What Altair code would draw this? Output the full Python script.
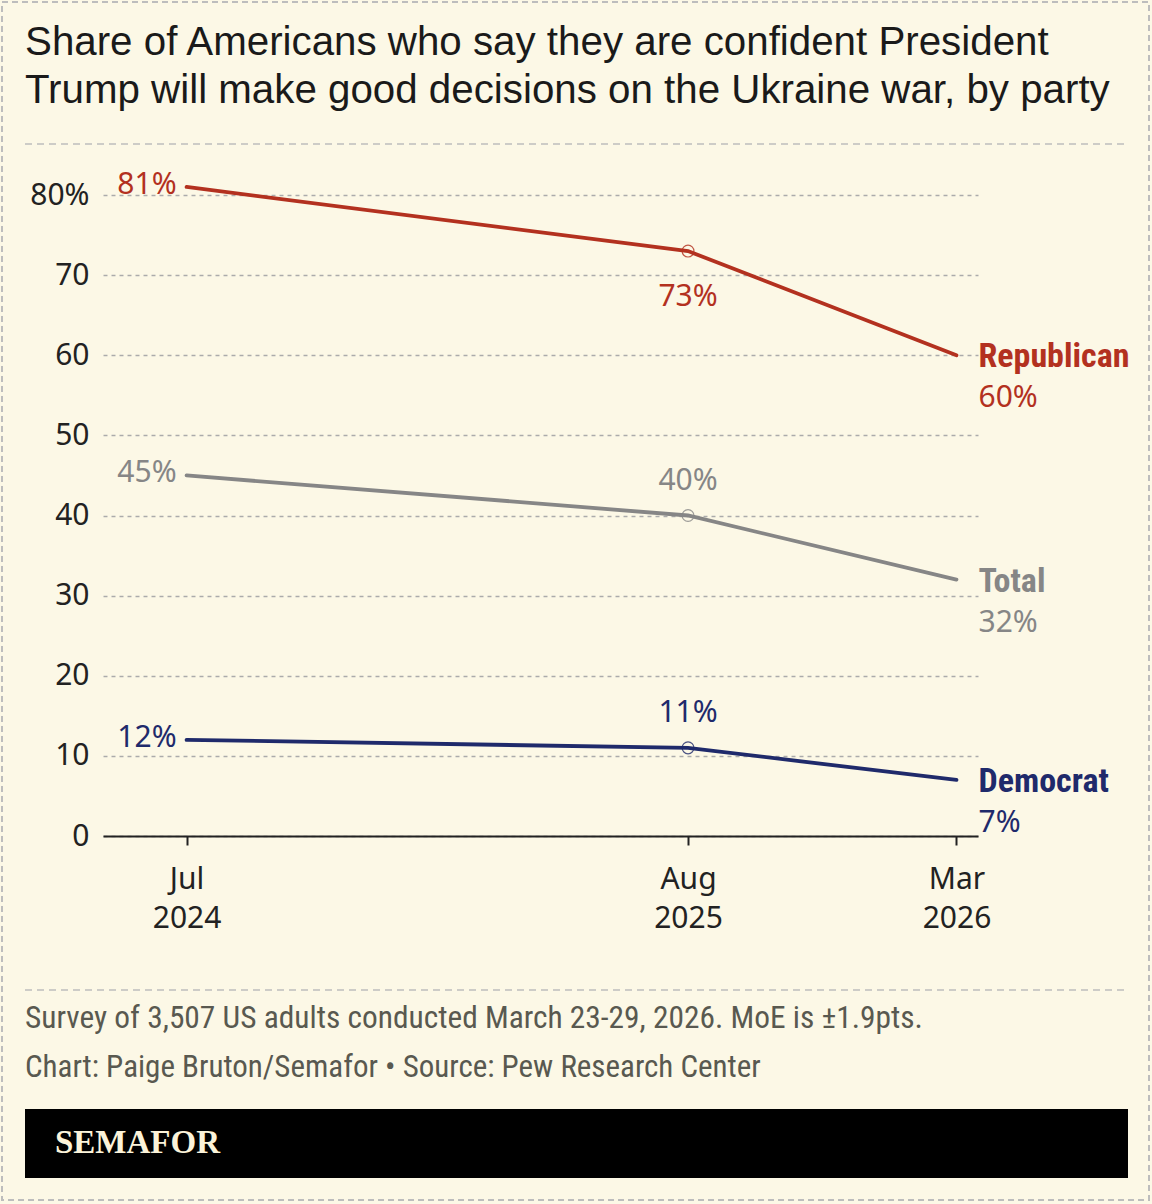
import altair as alt
import pandas as pd

# ---- data ----
dates = ["2024-07-01", "2025-08-01", "2026-03-01"]
series_names = ["Republican", "Total", "Democrat"]
republican = [81, 73, 60]
total = [45, 40, 32]
democrat = [12, 11, 7]
series_colors = ["#b3311f", "#868686", "#1f2a6b"]
y_ticks = [0, 10, 20, 30, 40, 50, 60, 70, 80]

title_lines = ["Share of Americans who say they are confident President",
               "Trump will make good decisions on the Ukraine war, by party"]
note_text = "Survey of 3,507 US adults conducted March 23-29, 2026. MoE is \u00b11.9pts."
credit_text = "Chart: Paige Bruton/Semafor \u2022 Source: Pew Research Center"
brand_text = "SEMAFOR"

rows = []
for name, vals in zip(series_names, [republican, total, democrat]):
    for i, (d, v) in enumerate(zip(dates, vals)):
        rows.append({"date": d, "series": name, "value": v, "idx": i, "label": f"{v}%"})
df = pd.DataFrame(rows)

BG = "#fcf8e6"
LABEL_FONT = "Noto Sans"
NARROW = "Liberation Sans Narrow, Roboto Condensed, DejaVu Sans Condensed, sans-serif"

color = alt.Color("series:N", scale=alt.Scale(domain=series_names, range=series_colors), legend=None)

x = alt.X(
    "date:T",
    scale=alt.Scale(type="utc", domain=[alt.DateTime(year=2024, month=4, date=26, utc=True),
                                         alt.DateTime(year=2026, month=3, date=18, utc=True)]),
    axis=alt.Axis(
        values=[alt.DateTime(year=2024, month=7, date=1, utc=True),
                alt.DateTime(year=2025, month=8, date=1, utc=True),
                alt.DateTime(year=2026, month=3, date=1, utc=True)],
        labelExpr="[utcFormat(datum.value, '%b'), utcFormat(datum.value, '%Y')]",
        grid=False, domainColor="#222", domainWidth=2, tickColor="#222", tickWidth=2,
        tickSize=9, labelFontSize=30, labelLineHeight=39, labelPadding=19,
        labelFont=LABEL_FONT, labelColor="#222", title=None,
    ),
)
y = alt.Y(
    "value:Q",
    scale=alt.Scale(domain=[0, 80], nice=False),
    axis=alt.Axis(
        values=y_ticks, grid=True, gridDash=[4, 4], gridColor="#ababab", gridWidth=1.5,
        domain=False, ticks=False, labelPadding=14, labelFontSize=30, labelFont=LABEL_FONT,
        labelColor="#222", title=None,
        labelExpr="datum.value == 80 ? '80%' : datum.label",
    ),
)

base = alt.Chart(df)

lines = base.mark_line(strokeWidth=3.8, strokeCap="round").encode(x=x, y=y, color=color)
points = base.transform_filter("datum.idx == 1").mark_point(
    filled=False, size=140, strokeWidth=1.2, opacity=0.8
).encode(x=x, y=y, color=color)

start_lbl = base.transform_filter("datum.idx == 0").mark_text(
    align="right", baseline="middle", dx=-10, dy=-2, fontSize=30, font=LABEL_FONT
).encode(x=x, y=y, color=color, text="label:N")
mid_above = base.transform_filter("datum.idx == 1 && datum.series != 'Republican'").mark_text(
    align="center", baseline="middle", dy=-35, fontSize=30, font=LABEL_FONT
).encode(x=x, y=y, color=color, text="label:N")
mid_below = base.transform_filter("datum.idx == 1 && datum.series == 'Republican'").mark_text(
    align="center", baseline="middle", dy=46, fontSize=30, font=LABEL_FONT
).encode(x=x, y=y, color=color, text="label:N")
end_name = base.transform_filter("datum.idx == 2").mark_text(
    align="left", baseline="middle", dx=22, dy=2, fontSize=34, fontWeight="bold", font=NARROW
).encode(x=x, y=y, color=color, text="series:N")
end_val = base.transform_filter("datum.idx == 2").mark_text(
    align="left", baseline="middle", dx=22, dy=43, fontSize=30, font=LABEL_FONT
).encode(x=x, y=y, color=color, text="label:N")

one = alt.Data(values=[{"k": 0}])
# view origin at (103, 195) on the page
border = alt.Chart(one).mark_rect(filled=False, stroke="#bdbdbd", strokeWidth=2, strokeDash=[6, 4]).encode(
    x=alt.value(-101), x2=alt.value(1046), y=alt.value(-193), y2=alt.value(1005))
top_sep = alt.Chart(one).mark_rule(stroke="#bdbdbd", strokeWidth=1.5, strokeDash=[7, 5]).encode(
    x=alt.value(-78), x2=alt.value(1025), y=alt.value(-51))
foot_sep = alt.Chart(one).mark_rule(stroke="#bdbdbd", strokeWidth=1.5, strokeDash=[7, 5]).encode(
    x=alt.value(-78), x2=alt.value(1025), y=alt.value(795))
bar = alt.Chart(one).mark_rect(color="#000000").encode(
    x=alt.value(-78), x2=alt.value(1025), y=alt.value(914), y2=alt.value(983))
title = alt.Chart(one).mark_text(
    align="left", baseline="alphabetic", fontSize=40.3, lineHeight=48, font="Liberation Sans", color="#1a1a1a"
).encode(x=alt.value(-78), y=alt.value(-140), text=alt.value(title_lines))
note = alt.Chart(one).mark_text(
    align="left", baseline="middle", fontSize=31.4, font=NARROW, color="#595950"
).encode(x=alt.value(-78), y=alt.value(824), text=alt.value(note_text))
credit = alt.Chart(one).mark_text(
    align="left", baseline="middle", fontSize=31, font=NARROW, color="#595950"
).encode(x=alt.value(-78), y=alt.value(873), text=alt.value(credit_text))
brand = alt.Chart(one).mark_text(
    align="left", baseline="middle", fontSize=33, fontWeight="bold", font="Liberation Serif", color="#fbf3d9"
).encode(x=alt.value(-48), y=alt.value(948), text=alt.value(brand_text))

chart = alt.layer(
    border, top_sep, foot_sep, bar, title, note, credit, brand,
    lines, points, start_lbl, mid_above, mid_below, end_name, end_val,
).properties(
    width=875, height=641,
    autosize=alt.AutoSizeParams(type="none"),
    padding={"left": 103, "top": 195, "right": 174, "bottom": 368},
    background=BG,
).configure_view(stroke=None)

chart.save("out.html", embed_options={"renderer": "svg", "actions": False})
